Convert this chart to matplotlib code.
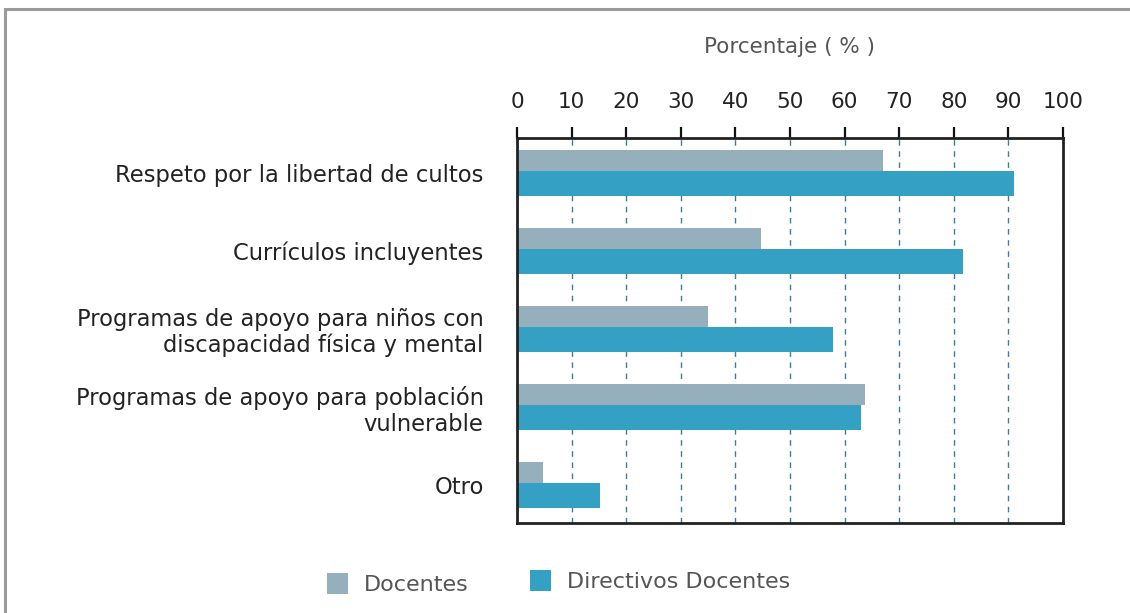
import matplotlib
matplotlib.use("Agg")
import matplotlib.pyplot as plt
from matplotlib.patches import Rectangle, Patch
import numpy as np

categories = ["Respeto por la libertad de cultos",
              "Currículos incluyentes",
              "Programas de apoyo para niños con\ndiscapacidad física y mental",
              "Programas de apoyo para población\nvulnerable",
              "Otro"]
docentes = [67.0, 44.7, 35.0, 63.7, 4.8]
directivos = [91.0, 81.7, 57.9, 63.0, 15.2]
series_names = ["Docentes", "Directivos Docentes"]
series_colors = ['#96afbd', '#33a0c4']
ticks = list(range(0, 101, 10))

plt.rcParams['font.family'] = ['DejaVu Sans']

W, H = 1130, 613
fig = plt.figure(figsize=(W / 100, H / 100), dpi=100)
fig.patches.append(Rectangle((5 / W, -0.1), 1.2, 1 - 9 / H + 0.1, transform=fig.transFigure,
                             fill=False, edgecolor='#9a9a9a', linewidth=2.2))

ax = fig.add_axes([517 / W, 1 - 523 / H, (1063 - 517) / W, (523 - 138) / H])
y = np.arange(len(categories))
ax.barh(y - 0.295, docentes, height=0.27, align='edge', color=series_colors[0], zorder=2)
ax.barh(y - 0.026, directivos, height=0.32, align='edge', color=series_colors[1], zorder=2)

ax.set_xlim(0, 100)
ax.set_ylim(4.49, -0.45)
ax.set_yticks(y)
ax.set_yticklabels(categories, fontsize=16.3, color='#222222', linespacing=1.15)
ax.tick_params(axis='y', length=0, pad=24)
ax.xaxis.tick_top()
ax.xaxis.set_label_position('top')
ax.set_xticks(ticks)
ax.set_xticklabels([str(t) for t in ticks], fontsize=15.5, color='#222222')
ax.tick_params(axis='x', direction='out', length=8, width=1.6, color='#111111', pad=11)
ax.set_xlabel("Porcentaje ( % )", fontsize=15.5, color='#555555', labelpad=28)
ax.grid(axis='x', linestyle=(0, (4, 4)), color='#3c7d92', linewidth=1, zorder=1)
for s in ax.spines.values():
    s.set_linewidth(2.0)
    s.set_color('#222222')

for name, col, xpos, ypos in [(series_names[0], series_colors[0], 327, 584),
                              (series_names[1], series_colors[1], 530, 581)]:
    fig.legend([Patch(facecolor=col)], [name], loc='center left',
               bbox_to_anchor=(xpos / W, 1 - ypos / H), frameon=False, fontsize=16,
               labelcolor='#555555', handlelength=0.95, handleheight=1.05,
               handletextpad=0.7, borderpad=0, borderaxespad=0)

fig.savefig("out.png", dpi=100)
